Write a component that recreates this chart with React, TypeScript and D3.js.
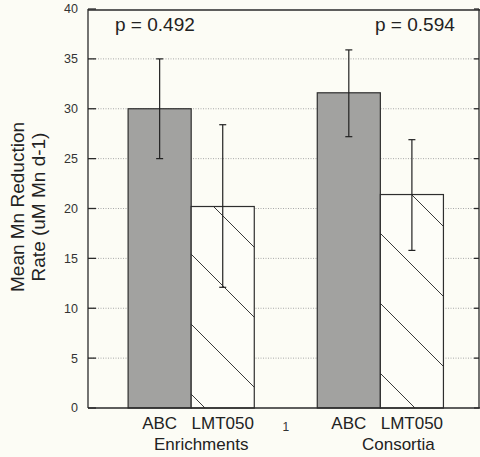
import React, { useEffect, useRef } from "react";
import * as d3 from "d3";

const groups = ["Enrichments", "Consortia"];
const treatments = ["ABC", "LMT050"];
const means = [
  [30.0, 20.2],
  [31.6, 21.4],
];
const errLow = [
  [25.0, 12.1],
  [27.2, 15.8],
];
const errHigh = [
  [35.0, 28.4],
  [35.9, 26.9],
];
const pValues = ["p = 0.492", "p = 0.594"];
const yTicks = [0, 5, 10, 15, 20, 25, 30, 35, 40];

const FONT = "'Liberation Sans', Arial, sans-serif";

const App = () => {
  const ref = useRef<SVGSVGElement>(null);

  useEffect(() => {
    const width = 480;
    const height = 457;
    const left = 88;
    const right = 479;
    const top = 9;
    const bottom = 408;

    const svg = d3.select(ref.current);
    svg.selectAll("*").remove();

    svg.append("rect").attr("width", width).attr("height", height).attr("fill", "#fcfcf5");

    const defs = svg.append("defs");
    const pat = defs
      .append("pattern")
      .attr("id", "hatch")
      .attr("patternUnits", "userSpaceOnUse")
      .attr("width", 70)
      .attr("height", 70);
    pat.append("rect").attr("width", 70).attr("height", 70).attr("fill", "#fdfdf8");
    pat
      .append("path")
      .attr("d", "M-1,62 L8,71 M6,-1 L71,64")
      .attr("stroke", "#3a3a3a")
      .attr("stroke-width", 1);

    const y = d3.scaleLinear().domain([0, 40]).range([bottom, top]);

    const x0 = d3
      .scaleBand()
      .domain(groups)
      .range([left, right])
      .paddingInner(0.333)
      .paddingOuter(0.2)
      .align(0.53);
    const x1 = d3.scaleBand().domain(treatments).range([0, x0.bandwidth()]);

    // flat list of bars in page coordinates (so the hatch lines up across bars)
    const bars = groups.flatMap((grp, i) =>
      treatments.map((t, j) => ({
        grp,
        t,
        v: means[i][j],
        lo: errLow[i][j],
        hi: errHigh[i][j],
        x: x0(grp)! + x1(t)!,
      }))
    );
    const bw = x1.bandwidth();

    // gridlines
    svg
      .append("g")
      .selectAll("line")
      .data(yTicks.filter((t) => t > 0 && t < 40))
      .enter()
      .append("line")
      .attr("x1", left)
      .attr("x2", right)
      .attr("y1", (d) => y(d))
      .attr("y2", (d) => y(d))
      .attr("stroke", "#a8a8a8")
      .attr("stroke-width", 1)
      .attr("stroke-dasharray", "1,1.5");

    // bars
    svg
      .append("g")
      .selectAll("rect")
      .data(bars)
      .enter()
      .append("rect")
      .attr("x", (d) => d.x)
      .attr("y", (d) => y(d.v))
      .attr("width", bw)
      .attr("height", (d) => bottom - y(d.v))
      .attr("fill", (d) => (d.t === "ABC" ? "#a2a2a0" : "url(#hatch)"))
      .attr("stroke", "#2e2e2e")
      .attr("stroke-width", 1.2);

    // error bars
    const eb = svg
      .append("g")
      .selectAll("g")
      .data(bars)
      .enter()
      .append("g")
      .attr("stroke", "#222")
      .attr("stroke-width", 1.2);
    eb.append("line")
      .attr("x1", (d) => d.x + bw / 2)
      .attr("x2", (d) => d.x + bw / 2)
      .attr("y1", (d) => y(d.lo))
      .attr("y2", (d) => y(d.hi));
    ["lo", "hi"].forEach((k) => {
      eb.append("line")
        .attr("x1", (d) => d.x + bw / 2 - 3.5)
        .attr("x2", (d) => d.x + bw / 2 + 3.5)
        .attr("y1", (d: any) => y(d[k]))
        .attr("y2", (d: any) => y(d[k]));
    });

    // axes frame
    const frame = svg.append("g").attr("stroke", "#2a2a2a").attr("stroke-width", 1.3);
    frame.append("line").attr("x1", left).attr("x2", left).attr("y1", top).attr("y2", bottom);
    frame.append("line").attr("x1", left).attr("x2", width).attr("y1", bottom).attr("y2", bottom);
    frame.append("line").attr("x1", left).attr("x2", width).attr("y1", top + 1).attr("y2", top + 1);
    frame.append("line").attr("x1", right).attr("x2", right).attr("y1", top).attr("y2", bottom);

    // inward ticks
    frame
      .selectAll(".tl")
      .data(yTicks)
      .enter()
      .append("line")
      .attr("x1", left)
      .attr("x2", left + 8)
      .attr("y1", (d) => y(d))
      .attr("y2", (d) => y(d));
    frame
      .selectAll(".tr")
      .data(yTicks)
      .enter()
      .append("line")
      .attr("x1", right - 5)
      .attr("x2", right)
      .attr("y1", (d) => y(d))
      .attr("y2", (d) => y(d));

    // tick labels
    svg
      .append("g")
      .selectAll("text")
      .data(yTicks)
      .enter()
      .append("text")
      .attr("x", 78)
      .attr("y", (d) => y(d))
      .attr("dy", "0.35em")
      .attr("text-anchor", "end")
      .attr("font-family", FONT)
      .attr("font-size", 12.5)
      .attr("fill", "#333")
      .text((d) => d);

    // category labels
    svg
      .append("g")
      .selectAll("text")
      .data(bars)
      .enter()
      .append("text")
      .attr("x", (d) => d.x + bw / 2)
      .attr("y", 429)
      .attr("text-anchor", "middle")
      .attr("font-family", FONT)
      .attr("font-size", 17)
      .attr("fill", "#222")
      .text((d) => d.t);

    svg
      .append("g")
      .selectAll("text")
      .data(groups)
      .enter()
      .append("text")
      .attr("x", (d, i) => x0(d)! + x0.bandwidth() / 2 + (i === 0 ? 10 : 18))
      .attr("y", 450)
      .attr("text-anchor", "middle")
      .attr("font-family", FONT)
      .attr("font-size", 17)
      .attr("fill", "#222")
      .text((d) => d);

    svg
      .append("text")
      .attr("x", (x0("Enrichments")! + x0.bandwidth() + x0("Consortia")!) / 2)
      .attr("y", 431)
      .attr("text-anchor", "middle")
      .attr("font-family", FONT)
      .attr("font-size", 12)
      .attr("fill", "#333")
      .text("1");

    // p values
    svg
      .selectAll(".pv")
      .data(pValues)
      .enter()
      .append("text")
      .attr("x", (d, i) => (i === 0 ? 115 : 375))
      .attr("y", 31)
      .attr("font-family", FONT)
      .attr("font-size", 19)
      .attr("fill", "#222")
      .text((d) => d);

    // y title
    const yt = svg
      .append("text")
      .attr("transform", "translate(0,207) rotate(-90)")
      .attr("text-anchor", "middle")
      .attr("font-family", FONT)
      .attr("font-size", 19)
      .attr("fill", "#222");
    yt.append("tspan").attr("x", 0).attr("y", 24).text("Mean Mn Reduction");
    yt.append("tspan").attr("x", 0).attr("y", 45).text("Rate (uM Mn d-1)");
  }, []);

  return (
    <svg
      ref={ref}
      width={480}
      height={457}
      style={{ position: "absolute", left: 0, top: 0, display: "block" }}
    />
  );
};

export default App;
